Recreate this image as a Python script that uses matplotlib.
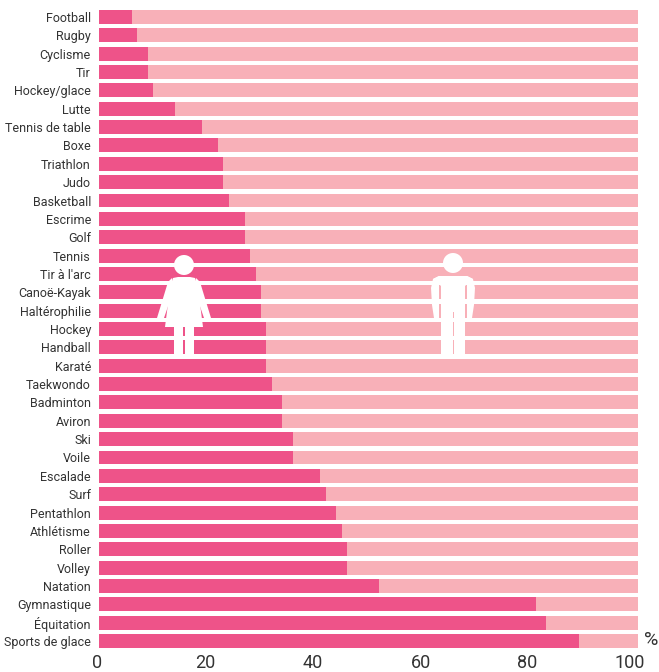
import matplotlib
matplotlib.use('Agg')
import matplotlib.pyplot as plt
from matplotlib.patches import Circle, Polygon, Rectangle
from matplotlib.transforms import Affine2D, ScaledTranslation

plt.rcParams['font.family'] = ['Roboto', 'Liberation Sans', 'DejaVu Sans']

sports = ['Football', 'Rugby', 'Cyclisme', 'Tir', 'Hockey/glace', 'Lutte', 'Tennis de table',
          'Boxe', 'Triathlon', 'Judo', 'Basketball', 'Escrime', 'Golf', 'Tennis', "Tir à l'arc",
          'Canoë-Kayak', 'Haltérophilie', 'Hockey', 'Handball', 'Karaté', 'Taekwondo', 'Badminton',
          'Aviron', 'Ski', 'Voile', 'Escalade', 'Surf', 'Pentathlon', 'Athlétisme', 'Roller',
          'Volley', 'Natation', 'Gymnastique', 'Équitation', 'Sports de glace']
women = [6, 7, 9, 9, 10, 14, 19, 22, 23, 23, 24, 27, 27, 28, 29, 30, 30, 31, 31, 31, 32, 34,
         34, 36, 36, 41, 42, 44, 45, 46, 46, 52, 81, 83, 89]
men = [100 - w for w in women]
xticks = [0, 20, 40, 60, 80, 100]

W, H = 659, 672
PINK = '#ee5389'
LIGHT = '#f8b0b8'
TXT = '#333333'

fig = plt.figure(figsize=(W / 100, H / 100), dpi=100)
ax = fig.add_axes([99.3 / W, 1 - 650.2 / H, 538.7 / W, 642.4 / H])
pos = range(len(sports))
ax.barh(pos, women, height=0.76, color=PINK)
ax.barh(pos, men, left=women, height=0.76, color=LIGHT)
ax.set_xlim(0, 100)
ax.set_ylim(len(sports) - 0.5, -0.5)
for s in ax.spines.values():
    s.set_visible(False)
ax.set_yticks(list(pos), sports, fontsize=9, color=TXT)
ax.set_xticks(xticks, [str(t) for t in xticks], fontsize=13, color=TXT)
ax.tick_params(axis='both', length=0)
ax.tick_params(axis='y', pad=6)
ax.tick_params(axis='x', pad=2.5)

# tick labels sit a bit left of their ticks in the original
shifts = [-2, -2, -2, -2, -3, -8.5]
for lab, dx in zip(ax.get_xticklabels(), shifts):
    lab.set_transform(lab.get_transform() + ScaledTranslation(dx / 100, 0, fig.dpi_scale_trans))

fig.text(644 / W, 1 - 640 / H, '%', fontsize=14, color=TXT, ha='left', va='center')

# silhouettes, in picture pixels (y down)
to_px = Affine2D().scale(1, -1).translate(0, H)


def shape(p):
    p.set(facecolor='white', edgecolor='none', transform=to_px, clip_on=False, zorder=5)
    fig.add_artist(p)


def woman(cx):
    shape(Circle((cx, 265), 10))
    shape(Polygon([(cx - 11, 278), (cx - 6, 277), (cx + 6, 277), (cx + 11, 278), (cx + 14, 288),
                   (cx + 19, 327), (cx - 19, 327), (cx - 14, 288)]))
    shape(Polygon([(cx - 12, 278), (cx - 16, 282), (cx - 27, 318), (cx - 20, 318), (cx - 10, 289)]))
    shape(Polygon([(cx + 12, 278), (cx + 16, 282), (cx + 27, 318), (cx + 20, 318), (cx + 10, 289)]))
    shape(Rectangle((cx - 10, 327), 9.4, 28))
    shape(Rectangle((cx + 0.6, 327), 9.4, 28))


def man(cx):
    shape(Circle((cx, 263), 10))
    shape(Polygon([(cx - 14, 276), (cx + 14, 276), (cx + 20, 279), (cx + 12, 286), (cx + 12, 312),
                   (cx - 12, 312), (cx - 12, 286), (cx - 20, 279)]))
    shape(Polygon([(cx - 14, 276), (cx - 20, 279), (cx - 22, 288), (cx - 21, 305), (cx - 19, 318),
                   (cx - 14, 318), (cx - 14, 284)]))
    shape(Polygon([(cx + 14, 276), (cx + 20, 279), (cx + 22, 288), (cx + 21, 305), (cx + 19, 318),
                   (cx + 14, 318), (cx + 14, 284)]))
    shape(Rectangle((cx - 12, 311), 11.5, 43.5))
    shape(Rectangle((cx + 0.5, 311), 11.5, 43.5))


woman(184)
man(453)

fig.savefig('out.png', dpi=100)
